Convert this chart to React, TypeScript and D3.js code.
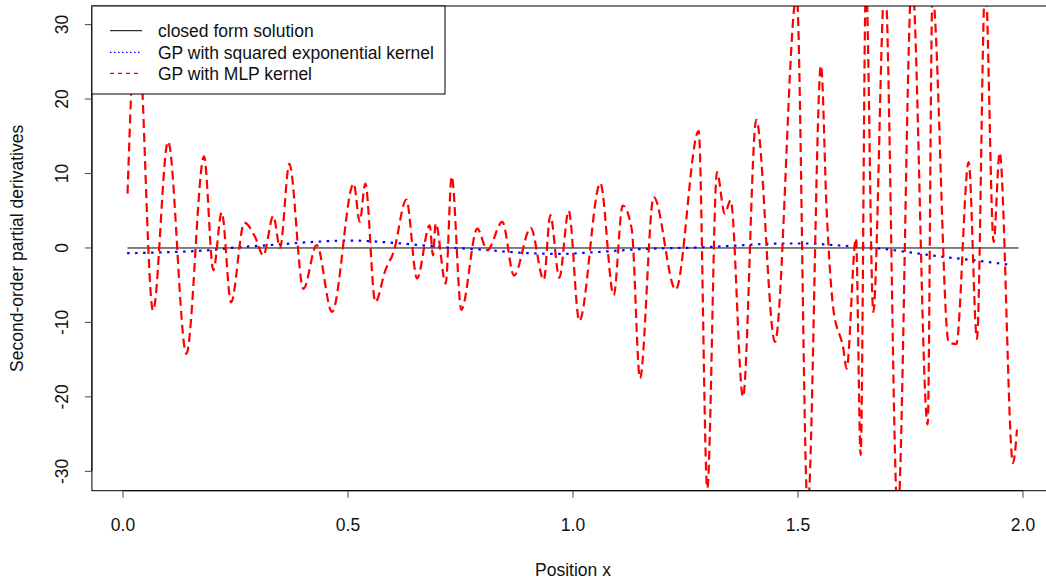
import React from "react";
import * as d3 from "d3";

// ---- data ----
const closedX = [0.01, 1.99];
const closedY = [0, 0];

const seX = [0.009, 0.082, 0.2, 0.256, 0.33, 0.433, 0.504, 0.609, 0.691, 0.791, 0.902, 0.971, 1.04, 1.151, 1.289, 1.356, 1.46, 1.527, 1.576, 1.627, 1.687, 1.749, 1.824, 1.898, 1.976];
const seY = [-0.7, -0.6, -0.25, 0.1, 0.4, 0.85, 1.0, 0.65, 0.2, -0.2, -0.7, -0.8, -0.6, -0.15, 0.1, 0.3, 0.6, 0.6, 0.4, 0.2, -0.1, -0.6, -1.2, -1.7, -2.3];

const mlpX = [
  0.01, 0.031, 0.0667, 0.1, 0.1407, 0.18, 0.2007, 0.2193, 0.24, 0.2696, 0.2933, 0.3118, 0.334, 0.3489, 0.3696,
  0.4007, 0.4304, 0.4644, 0.5127, 0.526, 0.5384, 0.5607, 0.5829, 0.6016, 0.6296, 0.6533, 0.6816, 0.6889, 0.6949,
  0.7171, 0.7304, 0.7518, 0.7873, 0.8096, 0.8429, 0.8689, 0.906, 0.9351, 0.9496, 0.9696, 0.9904, 1.014, 1.0607,
  1.0904, 1.1104, 1.1304, 1.1489, 1.1793, 1.2282, 1.2793, 1.2984, 1.32, 1.3371, 1.3504, 1.3778, 1.4073, 1.4489,
  1.4971, 1.5216, 1.5511, 1.5638, 1.5784, 1.6007, 1.6081, 1.6289, 1.6393, 1.6511, 1.6673, 1.6933, 1.7216, 1.7533,
  1.7882, 1.7989, 1.8349, 1.8518, 1.8793, 1.8978, 1.9162, 1.9349, 1.9482, 1.9778, 1.9867,
];
const mlpY = [
  7.3, 32, -8.4, 14.3, -14.2, 12.3, -3.0, 4.8, -7.3, 3.4, 1.5, -1.0, 4.3, 0.0, 11.3,
  -5.5, 0.4, -8.6, 8.65, 3.5, 8.65, -7.25, -3.0, -0.5, 6.5, -4.1, 3.05, -1.0, 3.3,
  -4.8, 9.6, -8.3, 2.6, -0.3, 3.5, -3.7, 2.7, -4.3, 4.4, -4.0, 5.0, -9.8, 8.7,
  -6.35, 5.7, 2.6, -17.5, 6.85, -5.6, 15.7, -32.3, 10.2, 4.6, 6.4, -20.0, 17.2, -12.6,
  34, -35, 24.5, 4.9, -8.1, -13.5, -16.2, 1.3, -27.8, 36, -8.6, 36, -36, 36,
  -23.7, 34, -12.7, -12.9, 11.55, -12.2, 36, 0.8, 12.8, -28.9, -24.4,
];

const xTicks = [0.0, 0.5, 1.0, 1.5, 2.0];
const yTicks = [-30, -20, -10, 0, 10, 20, 30];
const legendLabels = ["closed form solution", "GP with squared exponential kernel", "GP with MLP kernel"];

const W = 1046;
const H = 583;
const FONT = "'Liberation Sans', Arial, sans-serif";

export default function App() {
  const x = d3.scaleLinear().domain([-0.0692, 2.0692]).range([91.9, 1054.1]);
  const y = d3.scaleLinear().domain([-32.6, 32.5]).range([490.7, 6]);
  const [x0, x1] = x.range();
  const [yb, yt] = y.range();

  const mk = (xs: number[], ys: number[], curve: any) =>
    d3
      .line<number>()
      .x((_, i) => x(xs[i]))
      .y((_, i) => y(ys[i]))
      .curve(curve)(xs) as string;

  const closedPath = mk(closedX, closedY, d3.curveLinear);
  const sePath = mk(seX, seY, d3.curveMonotoneX);
  const mlpPath = mk(mlpX, mlpY, d3.curveMonotoneX);

  const legL = x0;
  const legT = yt;
  const legR = 445;
  const legB = 94;
  const rows = [30.7, 52.3, 73.3];

  return (
    <svg
      width={W}
      height={H}
      style={{ position: "absolute", left: 0, top: 0, background: "#fff" }}
      fontFamily={FONT}
    >
      <defs>
        <clipPath id="plotclip">
          <rect x={x0} y={yt} width={x1 - x0} height={yb - yt} />
        </clipPath>
      </defs>
      <rect x={0} y={0} width={W} height={H} fill="#fff" />

      <g clipPath="url(#plotclip)">
        <path d={closedPath} fill="none" stroke="#000" strokeWidth={1} />
        <path d={sePath} fill="none" stroke="#0000ff" strokeWidth={2.2} strokeDasharray="2.5,5.5" />
        <path d={mlpPath} fill="none" stroke="#ff0000" strokeWidth={2.2} strokeDasharray="9,5" />
      </g>

      {/* plot box */}
      <rect x={x0} y={yt} width={x1 - x0} height={yb - yt} fill="none" stroke="#000" strokeWidth={1} />

      {/* x axis */}
      <line x1={x(xTicks[0])} x2={x(xTicks[xTicks.length - 1])} y1={yb} y2={yb} stroke="#000" />
      {xTicks.map((t) => (
        <g key={"xt" + t}>
          <line x1={x(t)} x2={x(t)} y1={yb} y2={yb + 7} stroke="#444" />
          <text x={x(t)} y={531} textAnchor="middle" fontSize={17.5} fill="#111">
            {t.toFixed(1)}
          </text>
        </g>
      ))}
      <text x={(x0 + x1) / 2} y={576} textAnchor="middle" fontSize={17.5} fill="#111">
        Position x
      </text>

      {/* y axis */}
      <line x1={x0} x2={x0} y1={y(yTicks[0])} y2={y(yTicks[yTicks.length - 1])} stroke="#000" />
      {yTicks.map((t) => (
        <g key={"yt" + t}>
          <line x1={x0} x2={x0 - 7} y1={y(t)} y2={y(t)} stroke="#444" />
          <text
            transform={`translate(68,${y(t)}) rotate(-90)`}
            textAnchor="middle"
            fontSize={17.5}
            fill="#111"
          >
            {String(t)}
          </text>
        </g>
      ))}
      <text
        transform={`translate(23,${(yt + yb) / 2}) rotate(-90)`}
        textAnchor="middle"
        fontSize={17.5}
        fill="#111"
      >
        Second-order partial derivatives
      </text>

      {/* legend */}
      <rect x={legL} y={legT} width={legR - legL} height={legB - legT} fill="#fff" stroke="#000" strokeWidth={1} />
      <line x1={110} x2={142} y1={rows[0]} y2={rows[0]} stroke="#000" strokeWidth={1} />
      <line x1={110} x2={142} y1={rows[1]} y2={rows[1]} stroke="#0000ff" strokeWidth={1.2} strokeDasharray="1.5,2.5" />
      <line x1={110} x2={142} y1={rows[2]} y2={rows[2]} stroke="#ff0000" strokeWidth={1.2} strokeDasharray="4,4" />
      {legendLabels.map((l, i) => (
        <text key={l} x={158} y={rows[i] + 6.3} fontSize={17.5} fill="#111">
          {l}
        </text>
      ))}
    </svg>
  );
}
